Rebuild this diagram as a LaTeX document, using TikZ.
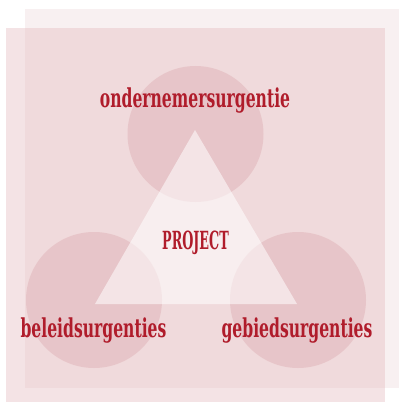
\documentclass[tikz,border=0pt]{standalone}
\usepackage{fontspec}
\usepackage{xcolor}
\usepackage{tikz}
\usetikzlibrary{positioning}
\newfontfamily\urgfont[FakeStretch=0.6]{DejaVu Serif}
\newfontfamily\projfont[FakeStretch=0.51]{DejaVu Serif}
\definecolor{urgred}{RGB}{176,28,43}
\definecolor{backpink}{RGB}{248,240,241}
\definecolor{frontpink}{RGB}{229,188,193}
\definecolor{circpink}{RGB}{213,151,158}

\begin{document}
\begin{tikzpicture}[
    x=1pt, y=-1pt,
    backrect/.style={fill=backpink},
    frontrect/.style={fill=frontpink, fill opacity=0.42},
    urg/.style={circle, fill=circpink, fill opacity=0.3, minimum size=136pt, inner sep=0pt},
    tri/.style={fill=white, fill opacity=0.55},
    lbl/.style={font=\urgfont\bfseries\fontsize{26}{28}\selectfont, text=urgred, anchor=base, inner sep=0pt},
    projlbl/.style={lbl, font=\projfont\bfseries\fontsize{25}{27}\selectfont}
]
\useasboundingbox (0,0) rectangle (400,403);
% background panels
\fill[backrect] (25,9) rectangle (399,388);
\fill[frontrect] (6,28) rectangle (385,402);

% the three urgencies
\node[urg] (ondernemer) at (195.5,134) {};
\node[urg] (beleid) at (94,300) {};
\node[urg] (gebied) at (298,300) {};

% project triangle
\coordinate (top) at (195,130);
\coordinate (left) at (95,304);
\coordinate (right) at (297,304);
\fill[tri] (top) -- (left) -- (right) -- cycle;

\node[lbl] (t1) at (195,108) {ondernemersurgentie};
\node[projlbl] (t2) at (195.5,249) {PROJECT};
\node[lbl] (t3) at (93.5,337) {beleidsurgenties};
\node[lbl] (t4) at (297,337) {gebiedsurgenties};
\end{tikzpicture}
\end{document}
